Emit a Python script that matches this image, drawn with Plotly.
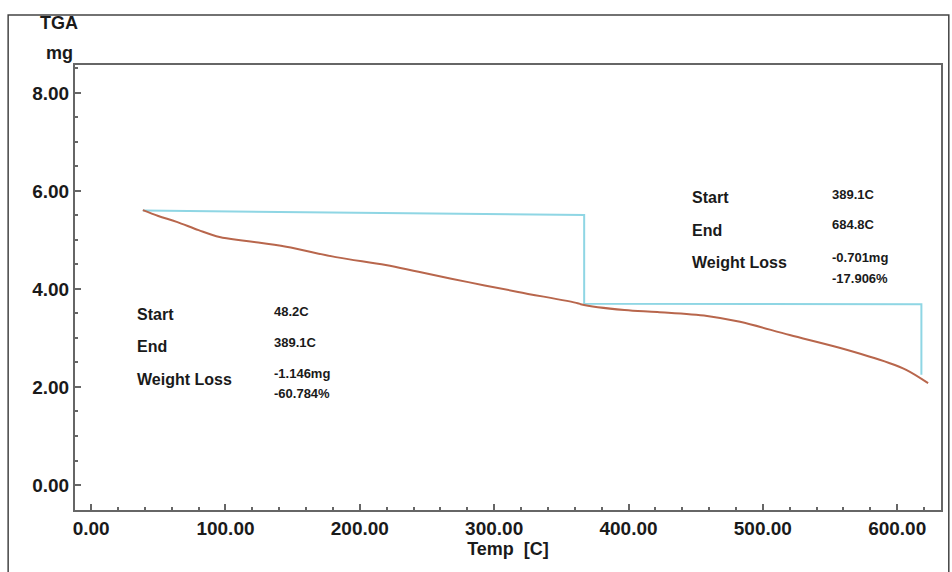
import plotly.graph_objects as go

# TGA curve (Temp in C, mass in mg)
temp = [38.5, 50, 63.7, 80, 95.6, 115.6, 145.2, 182.2, 219.3, 243.7, 280.7, 317.8,
        362.2, 364.4, 397, 421.5, 458.5, 483, 520, 557, 594, 606.7, 623]
mass = [5.61, 5.49, 5.37, 5.20, 5.06, 4.98, 4.86, 4.65, 4.49, 4.35, 4.14, 3.94,
        3.71, 3.69, 3.57, 3.53, 3.45, 3.33, 3.06, 2.80, 2.49, 2.35, 2.08]

# weight-loss step marker
step_x = [38.5, 367, 367, 618, 618]
step_y = [5.60, 5.51, 3.70, 3.69, 2.25]

# analysis blocks
left_labels = ["Start", "End", "Weight Loss"]
left_values = ["48.2C", "389.1C", "-1.146mg", "-60.784%"]
right_labels = ["Start", "End", "Weight Loss"]
right_values = ["389.1C", "684.8C", "-0.701mg", "-17.906%"]

x_ticks = [0, 100, 200, 300, 400, 500, 600]
y_ticks = [0, 2, 4, 6, 8]

FONT = "Liberation Sans, Arial, sans-serif"

fig = go.Figure()
fig.add_trace(go.Scatter(x=step_x, y=step_y, mode="lines",
                         line=dict(color="#8fd6e4", width=2), hoverinfo="skip"))
fig.add_trace(go.Scatter(x=temp, y=mass, mode="lines",
                         line=dict(color="#b8664c", width=2, shape="spline"), hoverinfo="skip"))

annots = []
lab_y_left = [3.47, 2.82, 2.16]
val_y_left = [3.55, 2.90, 2.27, 1.86]
lab_y_right = [5.86, 5.20, 4.55]
val_y_right = [5.92, 5.31, 4.65, 4.22]
for t, y in zip(left_labels, lab_y_left):
    annots.append(dict(x=32.6, y=y, text="<b>%s</b>" % t, xanchor="left", yanchor="middle", showarrow=False,
                       font=dict(family=FONT, size=16, color="#1a1a1a")))
for t, y in zip(left_values, val_y_left):
    annots.append(dict(x=135, y=y, text="<b>%s</b>" % t, xanchor="left", yanchor="middle", showarrow=False,
                       font=dict(family=FONT, size=13, color="#1a1a1a")))
for t, y in zip(right_labels, lab_y_right):
    annots.append(dict(x=446, y=y, text="<b>%s</b>" % t, xanchor="left", yanchor="middle", showarrow=False,
                       font=dict(family=FONT, size=16, color="#1a1a1a")))
for t, y in zip(right_values, val_y_right):
    annots.append(dict(x=550, y=y, text="<b>%s</b>" % t, xanchor="left", yanchor="middle", showarrow=False,
                       font=dict(family=FONT, size=13, color="#1a1a1a")))

# axis title (TGA / mg) at top-left
annots.append(dict(xref="paper", yref="paper", x=-0.018, y=1.095, text="<b>TGA</b>", showarrow=False,
                   xanchor="center", yanchor="middle", font=dict(family=FONT, size=18, color="#1a1a1a")))
annots.append(dict(xref="paper", yref="paper", x=-0.018, y=1.027, text="<b>mg</b>", showarrow=False,
                   xanchor="center", yanchor="middle", font=dict(family=FONT, size=18, color="#1a1a1a")))

axis_common = dict(showline=True, linecolor="#666", linewidth=2, mirror=True,
                   showgrid=False, zeroline=False, ticks="inside", tickcolor="#666",
                   tickwidth=1.5, ticklen=6,
                   tickfont=dict(family=FONT, size=19, color="#1a1a1a", weight="bold"),
                   tickformat=".2f")

fig.update_layout(
    width=952, height=572,
    margin=dict(l=75, r=9, t=65, b=62),
    paper_bgcolor="white", plot_bgcolor="white",
    showlegend=False,
    annotations=annots,
    xaxis=dict(range=[-12, 632.6], tickvals=x_ticks,
               minor=dict(dtick=20, ticks="inside", ticklen=3, tickcolor="#666", tick0=0),
               title=dict(text="Temp  [C]", font=dict(family=FONT, size=18, color="#1a1a1a", weight="bold"),
                          standoff=2),
               **axis_common),
    yaxis=dict(range=[-0.51, 8.57], tickvals=y_ticks,
               minor=dict(dtick=0.5, ticks="inside", ticklen=3, tickcolor="#666", tick0=0),
               **axis_common),
    shapes=[dict(type="rect", xref="paper", yref="paper",
                 x0=-0.0772, x1=1.009, y0=-0.3, y1=1.1124,
                 line=dict(color="#444", width=1.5), fillcolor="rgba(0,0,0,0)", layer="below")],
)

fig.write_html("out.html")
